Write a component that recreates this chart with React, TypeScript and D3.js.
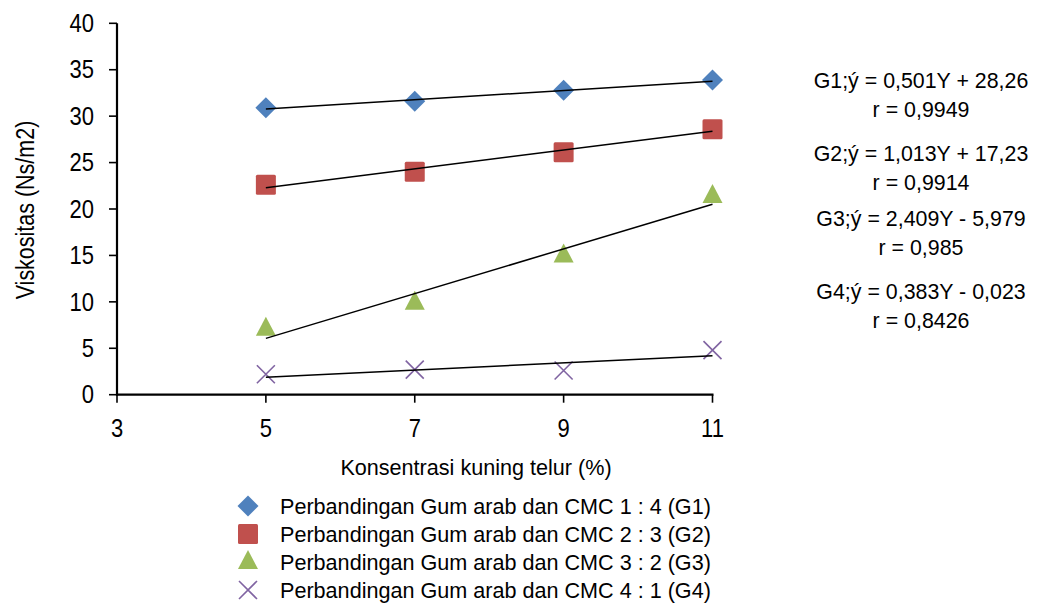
import React from 'react';
import * as d3 from 'd3';

// x values: konsentrasi kuning telur (%)
const concentrations = [5, 7, 9, 11];

// viscosity readings per ratio group
const g1 = [30.9, 31.6, 32.8, 33.9];
const g2 = [22.6, 24.0, 26.1, 28.6];
const g3 = [7.1, 9.9, 15.0, 21.4];
const g4 = [2.2, 2.7, 2.6, 4.8];

// fitted lines from the report (slope, intercept)
const slopes = [0.501, 1.013, 2.409, 0.383];
const intercepts = [28.26, 17.23, -5.979, -0.023];

const seriesNames = [
  'Perbandingan Gum arab dan CMC 1 : 4 (G1)',
  'Perbandingan Gum arab dan CMC 2 : 3 (G2)',
  'Perbandingan Gum arab dan CMC 3 : 2 (G3)',
  'Perbandingan Gum arab dan CMC 4 : 1 (G4)',
];

const equations = [
  ['G1;ý = 0,501Y + 28,26', 'r = 0,9949'],
  ['G2;ý = 1,013Y + 17,23', 'r = 0,9914'],
  ['G3;ý = 2,409Y - 5,979', 'r = 0,985'],
  ['G4;ý = 0,383Y - 0,023', 'r = 0,8426'],
];

const xTicks = [3, 5, 7, 9, 11];
const yTicks = [0, 5, 10, 15, 20, 25, 30, 35, 40];

const colors = ['#4F81BD', '#C0504D', '#9BBB59', '#8064A2'];
const shapes = ['diamond', 'square', 'triangle', 'cross'];
const FONT = '"Liberation Sans", Arial, sans-serif';

// text squeezed horizontally to mimic Arial Narrow
const Txt = ({ x, y, sx = 0.9, size = 22, anchor = 'start', children }: any) => (
  <g transform={`translate(${x},${y}) scale(${sx},1)`}>
    <text x={0} y={0} dy="0.35em" textAnchor={anchor} fontSize={size} fill="#000">
      {children}
    </text>
  </g>
);

const Marker = ({ shape, x, y, color }: { shape: string; x: number; y: number; color: string }) => {
  if (shape === 'diamond') {
    return <path d={`M${x},${y - 10.5}L${x + 10.5},${y}L${x},${y + 10.5}L${x - 10.5},${y}Z`} fill={color} />;
  }
  if (shape === 'square') {
    return <rect x={x - 10} y={y - 10} width={20} height={20} rx={1.5} fill={color} />;
  }
  if (shape === 'triangle') {
    return <path d={`M${x},${y - 12}L${x + 10},${y + 7}L${x - 10},${y + 7}Z`} fill={color} />;
  }
  const s = 9;
  return (
    <path
      d={`M${x - s},${y - s}L${x + s},${y + s}M${x - s},${y + s}L${x + s},${y - s}`}
      stroke={color}
      strokeWidth={1.6}
      fill="none"
    />
  );
};

export default function App() {
  const width = 1043;
  const height = 605;
  const x = d3.scaleLinear().domain([3, 11]).range([117, 712.5]);
  const y = d3.scaleLinear().domain([0, 40]).range([394.7, 23.3]);
  const groups = [g1, g2, g3, g4];
  const eqY = [80, 153, 218, 291];

  return (
    <svg
      width={width}
      height={height}
      style={{ position: 'absolute', left: 0, top: 0, background: '#fff' }}
      fontFamily={FONT}
    >
      {/* markers */}
      {groups.map((vals, i) =>
        vals.map((v, j) => (
          <Marker key={`m${i}-${j}`} shape={shapes[i]} x={x(concentrations[j])} y={y(v)} color={colors[i]} />
        ))
      )}

      {/* linear trend lines over the markers */}
      {slopes.map((m, i) => {
        const x0 = concentrations[0];
        const x1 = concentrations[concentrations.length - 1];
        return (
          <line
            key={`t${i}`}
            x1={x(x0)}
            y1={y(m * x0 + intercepts[i])}
            x2={x(x1)}
            y2={y(m * x1 + intercepts[i])}
            stroke="#000"
            strokeWidth={1.5}
          />
        );
      })}

      {/* axes */}
      <line x1={x(3) - 1} y1={y(0)} x2={x(11) + 1} y2={y(0)} stroke="#000" strokeWidth={2.2} />
      <line x1={x(3)} y1={y(0) + 1} x2={x(3)} y2={y(40)} stroke="#000" strokeWidth={2.2} />
      {yTicks.map((t) => (
        <g key={`yt${t}`}>
          <line x1={x(3) - 8} x2={x(3)} y1={y(t)} y2={y(t)} stroke="#000" strokeWidth={1.6} />
          <Txt x={x(3) - 23} y={y(t)} size={25} sx={0.88} anchor="end">
            {t}
          </Txt>
        </g>
      ))}
      {xTicks.map((t) => (
        <g key={`xt${t}`}>
          <line x1={x(t)} x2={x(t)} y1={y(0)} y2={y(0) + 8} stroke="#000" strokeWidth={1.6} />
          <Txt x={x(t)} y={y(0) + 34} size={25} sx={0.88} anchor="middle">
            {t}
          </Txt>
        </g>
      ))}

      {/* axis titles */}
      <Txt x={476} y={467} size={22.5} sx={0.96} anchor="middle">
        Konsentrasi kuning telur (%)
      </Txt>
      <g transform="translate(25,210) rotate(-90) scale(0.86,1)">
        <text x={0} y={0} dy="0.35em" textAnchor="middle" fontSize={25} fill="#000">
          Viskositas (Ns/m2)
        </text>
      </g>

      {/* regression equations */}
      {equations.map((eq, i) => (
        <g key={`eq${i}`}>
          <Txt x={921} y={eqY[i]} size={22.5} sx={0.95} anchor="middle">
            {eq[0]}
          </Txt>
          <Txt x={921} y={eqY[i] + 29} size={22.5} sx={0.95} anchor="middle">
            {eq[1]}
          </Txt>
        </g>
      ))}

      {/* legend */}
      {seriesNames.map((name, i) => {
        const ly = 506 + i * 28;
        return (
          <g key={`lg${i}`}>
            <Marker shape={shapes[i]} x={248} y={ly} color={colors[i]} />
            <Txt x={280} y={ly} size={22.5} sx={0.96}>
              {name}
            </Txt>
          </g>
        );
      })}
    </svg>
  );
}
